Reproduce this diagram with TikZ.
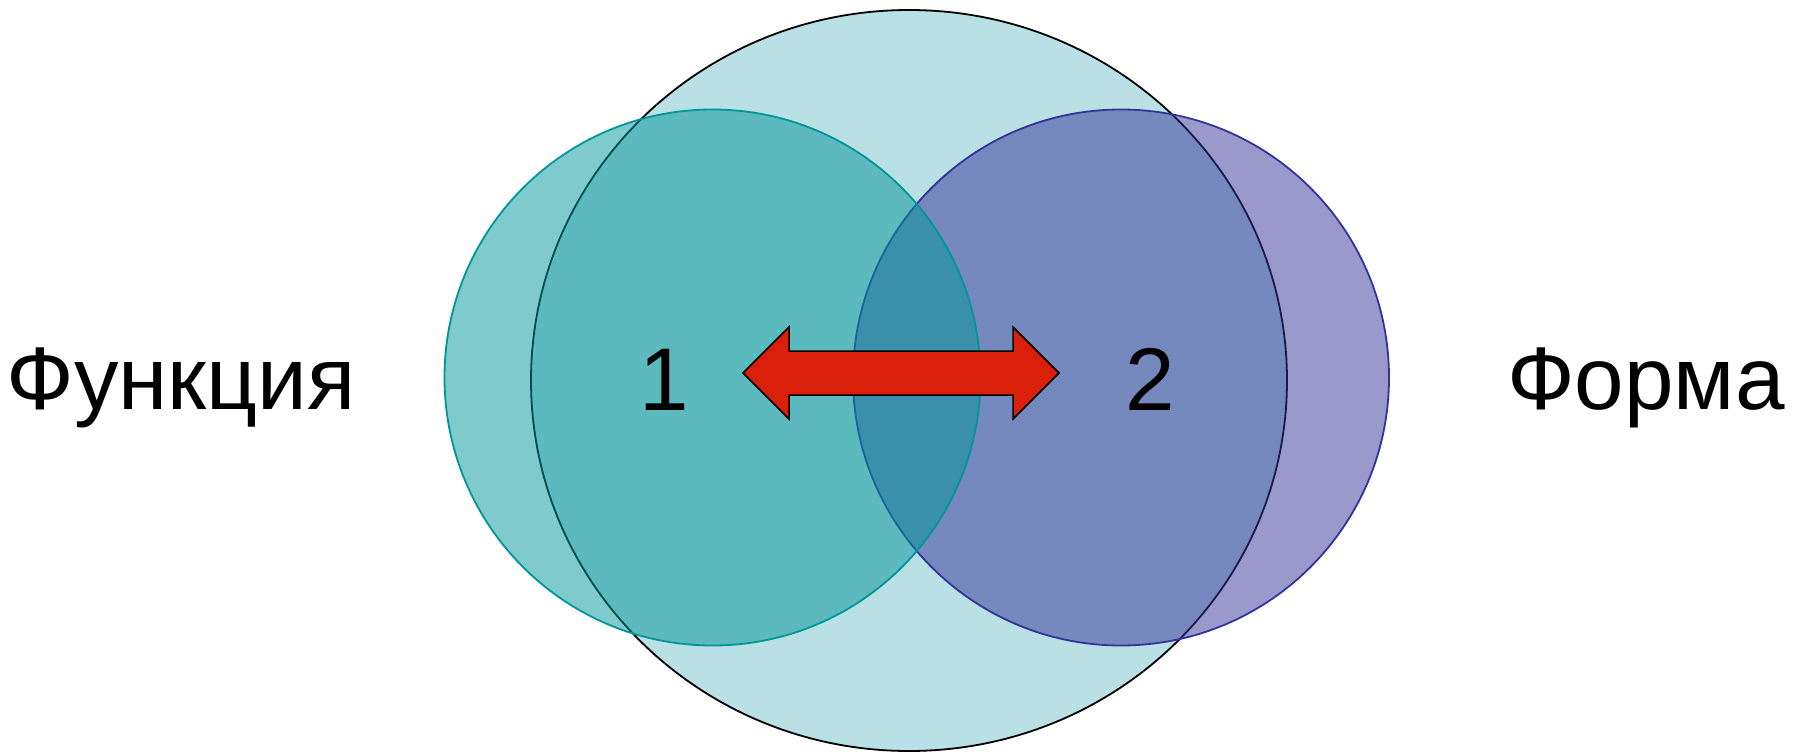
\documentclass[tikz,border=0pt]{standalone}
\usepackage{fontspec}
\setmainfont{Liberation Sans}
\usetikzlibrary{shapes.geometric}
\definecolor{bigfill}{RGB}{185,224,228}
\definecolor{tealc}{RGB}{0,150,153}
\definecolor{navyc}{RGB}{51,51,153}
\definecolor{arrowred}{RGB}{218,31,11}
\begin{document}
\begin{tikzpicture}[x=1pt,y=-1pt,
  bigshape/.style={ellipse, draw=black, line width=1.8pt, fill=bigfill, inner sep=0pt, minimum width=756pt, minimum height=741pt},
  smallcircle/.style={circle, line width=1.8pt, fill opacity=0.5, inner sep=0pt, minimum size=536pt},
  label/.style={inner sep=0pt, font=\fontsize{89}{96}\selectfont}
]
\useasboundingbox (0,0) rectangle (1802,752);
\node[bigshape] (big) at (909,380.5) {};
\node[smallcircle, draw=navyc, fill=navyc] (right) at (1121,377.5) {};
\node[smallcircle, draw=tealc, fill=tealc] (left) at (712.5,377.5) {};
\draw[fill=arrowred, draw=black, line width=1.5pt, line join=miter]
  (743,373) -- (789,327) -- (789,351) -- (1013,351) -- (1013,327) -- (1059,373)
  -- (1013,419) -- (1013,395) -- (789,395) -- (789,419) -- cycle;
\node[label, anchor=base] (one) at (664,410) {1};
\node[label, anchor=base] (two) at (1150,410) {2};
\node[label, anchor=base] (func) at (181,409) {Функция};
\node[label, anchor=base] (forma) at (1646,409) {Форма};
\end{tikzpicture}
\end{document}
